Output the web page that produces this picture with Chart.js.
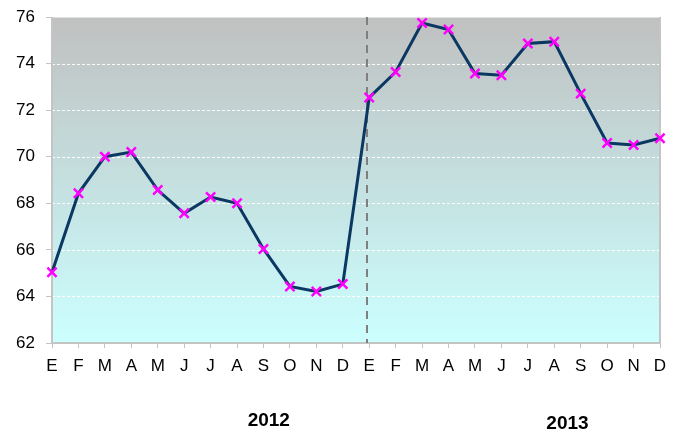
<!DOCTYPE html>
<html>
<head>
<meta charset="utf-8">
<script src="https://cdn.jsdelivr.net/npm/chart.js@4/dist/chart.umd.min.js"></script>
<style>
  html, body { margin: 0; padding: 0; background: #fff; }
  #wrap { width: 679px; height: 436px; }
</style>
</head>
<body>
<div id="wrap"><canvas id="chart" width="679" height="436"></canvas></div>
<script>
// Months (Spanish initials), two years side by side
const MONTHS = ["E", "F", "M", "A", "M", "J", "J", "A", "S", "O", "N", "D"];
const YEARS = ["2012", "2013"];
const VALUES_2012 = [65.04, 68.43, 70.0, 70.2, 68.57, 67.57, 68.27, 68.0, 66.04, 64.43, 64.21, 64.53];
const VALUES_2013 = [72.54, 73.64, 75.74, 75.46, 73.57, 73.5, 74.86, 74.94, 72.71, 70.59, 70.5, 70.79];
const Y_TICKS = [62, 64, 66, 68, 70, 72, 74, 76];

const labels = MONTHS.concat(MONTHS);
const values = VALUES_2012.concat(VALUES_2013);
const FONT = "'Liberation Sans', Arial, sans-serif";

// Gradient plot background + frame + year divider + year captions
const decor = {
  id: "decor",
  beforeDatasetsDraw(chart) {
    const { ctx, chartArea: a, scales } = chart;
    ctx.save();
    const g = ctx.createLinearGradient(0, a.top, 0, a.bottom);
    g.addColorStop(0, "#c0c0c0");
    g.addColorStop(0.45, "#c4dcdc");
    g.addColorStop(1, "#ccffff");
    ctx.fillStyle = g;
    ctx.fillRect(a.left, a.top, a.right - a.left, a.bottom - a.top);
    // white dashed gridlines on top of the gradient
    ctx.strokeStyle = "#ffffff";
    ctx.lineWidth = 1;
    ctx.setLineDash([3, 2]);
    Y_TICKS.slice(1, -1).forEach(v => {
      const y = Math.round(scales.y.getPixelForValue(v)) + 0.5;
      ctx.beginPath();
      ctx.moveTo(a.left, y);
      ctx.lineTo(a.right, y);
      ctx.stroke();
    });
    // frame
    ctx.setLineDash([]);
    ctx.strokeStyle = "#e2e2e2";
    ctx.lineWidth = 1;
    ctx.strokeRect(a.left + 0.5, a.top + 0.5, a.right - a.left, a.bottom - a.top);
    ctx.strokeStyle = "#c4c4c4";
    ctx.lineWidth = 2;
    ctx.beginPath();
    ctx.moveTo(a.left, a.top);
    ctx.lineTo(a.left, a.bottom);
    ctx.lineTo(a.right, a.bottom);
    ctx.lineTo(a.right, a.top);
    ctx.stroke();
    // dashed divider between years
    const xd = Math.round(scales.x.getPixelForValue(12)) - 2;
    ctx.strokeStyle = "#7f7f7f";
    ctx.lineWidth = 2;
    ctx.setLineDash([8, 6]);
    ctx.beginPath();
    ctx.moveTo(xd, a.top);
    ctx.lineTo(xd, a.bottom);
    ctx.stroke();
    ctx.restore();
  },
  afterDraw(chart) {
    const { ctx, scales } = chart;
    ctx.save();
    ctx.fillStyle = "#000";
    ctx.font = "bold 19px " + FONT;
    ctx.textAlign = "center";
    ctx.textBaseline = "middle";
    ctx.fillText(YEARS[0], scales.x.getPixelForValue(8.2), 421);
    ctx.fillText(YEARS[1], scales.x.getPixelForValue(19.5), 424);
    ctx.restore();
  }
};

new Chart(document.getElementById("chart"), {
  type: "line",
  data: {
    labels,
    datasets: [{
      data: values,
      borderColor: "#0b3862",
      borderWidth: 3,
      tension: 0,
      pointStyle: "crossRot",
      pointRadius: 6.5,
      pointBorderColor: "#ff00ff",
      pointBorderWidth: 2.5,
      pointBackgroundColor: "#ff00ff",
    }],
  },
  options: {
    responsive: false,
    animation: false,
    events: [],
    layout: { padding: { top: 17, right: 19, left: 0, bottom: 0 } },
    plugins: { legend: { display: false }, tooltip: { enabled: false } },
    scales: {
      x: {
        offset: false,
        grid: { drawOnChartArea: false, drawTicks: true, tickLength: 5, tickColor: "#c4c4c4" },
        border: { display: false },
        ticks: { color: "#000", font: { family: FONT, size: 17 }, maxRotation: 0, autoSkip: false, padding: 8 },
        afterFit(s) { s.height = 93; },
      },
      y: {
        min: 62,
        max: 76,
        grid: { drawOnChartArea: false, drawTicks: true, tickLength: 6, tickColor: "#c4c4c4" },
        border: { display: false },
        ticks: { stepSize: 2, color: "#000", font: { family: FONT, size: 17 }, padding: 11 },
        afterFit(s) { s.width = 52; s.paddingTop = 0; s.paddingBottom = 0; },
      },
    },
  },
  plugins: [decor],
});
</script>
</body>
</html>
